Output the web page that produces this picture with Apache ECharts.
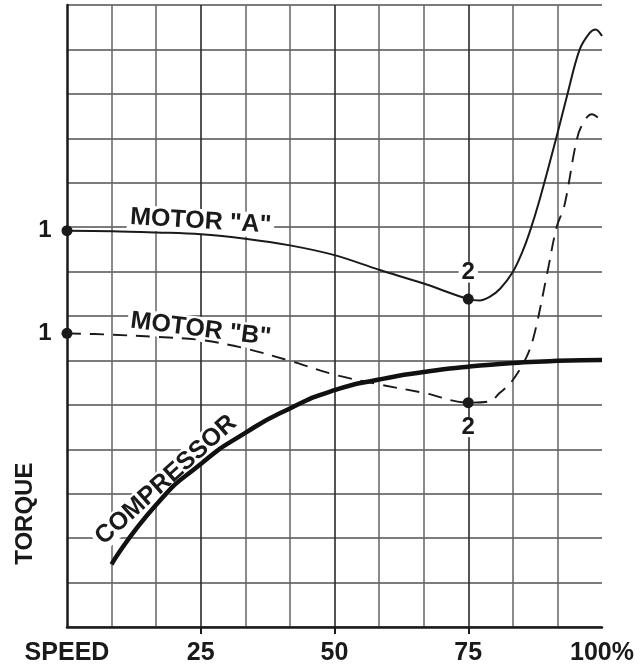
<!DOCTYPE html>
<html><head><meta charset="utf-8">
<script src="https://cdn.jsdelivr.net/npm/echarts@6/dist/echarts.min.js"></script>
<style>html,body{margin:0;padding:0;background:#fff}#c{width:642px;height:667px}</style>
</head><body><div id="c"></div>
<script>
// ---- data ----
const speedTicks = [0, 25, 50, 75, 100];
const speedTickLabels = ['SPEED', '25', '50', '75', '100%'];

const motorASpeed  = [0, 8.33, 16.67, 25, 33.33, 41.67, 50, 58.33, 66.67, 75, 77.1, 79.0, 81.0, 83.33, 85.0, 86.4, 88.3, 91.5, 93.6, 95.8, 97.7, 98.8, 100];
const motorATorque = [8.92, 8.91, 8.88, 8.84, 8.74, 8.59, 8.37, 8.04, 7.73, 7.38, 7.35, 7.43, 7.62, 7.99, 8.41, 8.86, 9.60, 11.03, 12.02, 12.99, 13.37, 13.45, 13.30];

const motorBSpeed  = [0, 8.33, 16.67, 25, 33.33, 41.67, 50, 58.33, 66.67, 75, 79.0, 80.8, 83.1, 85.9, 87.4, 89.8, 91.5, 93.0, 95.0, 96.1, 98.1, 100];
const motorBTorque = [6.61, 6.58, 6.53, 6.46, 6.27, 5.99, 5.68, 5.46, 5.27, 5.05, 5.08, 5.26, 5.52, 6.08, 6.61, 7.99, 8.99, 9.50, 10.81, 11.26, 11.54, 11.39];

const compSpeed  = [8.33, 16.67, 25, 33.33, 41.67, 50, 58.33, 66.67, 75, 83.33, 91.67, 100];
const compTorque = [1.41, 2.75, 3.67, 4.37, 4.92, 5.33, 5.57, 5.74, 5.86, 5.94, 5.99, 6.01];

const pointSpeed  = [0, 75, 0, 75];
const pointTorque = [8.92, 7.38, 6.61, 5.05];
const pointLabels = ['1', '2', '1', '2'];
const pointLabelPos = ['left', 'top', 'left', 'bottom'];

const curveLabelText  = ['MOTOR "A"', 'MOTOR "B"', 'COMPRESSOR'];
const curveLabelSpeed = [25, 25, 18.5];
const curveLabelTorque = [9.13, 6.70, 3.31];
const curveLabelAngle = [-3.5, -7, 42];

const axisTitle = 'TORQUE';
const axisTitleTorque = 2.55;

// ---- chart ----
const FONT = '"Liberation Sans", Arial, Helvetica, sans-serif';
const zip = (a, b) => a.map((v, i) => [v, b[i]]);
const chart = echarts.init(document.getElementById('c'), null, {renderer: 'canvas'});

chart.setOption({
  animation: false,
  backgroundColor: '#fff',
  grid: {left: 67, right: 40, top: 5, bottom: 40, containLabel: false},
  xAxis: {
    type: 'value', min: 0, max: 100, interval: 25,
    axisLine: {show: true, onZero: false, lineStyle: {color: '#1a1a1a', width: 2.5}},
    axisTick: {show: true, customValues: [25, 50, 75], length: 7, lineStyle: {color: '#1a1a1a', width: 2}},
    axisLabel: {
      show: true, margin: 14, color: '#1a1a1a',
      fontFamily: FONT, fontWeight: 'bold', fontSize: 25,
      formatter: v => { const i = speedTicks.indexOf(v); return i >= 0 ? speedTickLabels[i] : ''; }
    },
    splitLine: {show: true, lineStyle: {color: '#2a2a2a', width: 1.6}},
    minorTick: {show: false, splitNumber: 3},
    minorSplitLine: {show: true, lineStyle: {color: '#666', width: 1.5}}
  },
  yAxis: {
    type: 'value', min: 0, max: 14, interval: 1,
    axisLine: {show: true, onZero: false, lineStyle: {color: '#1a1a1a', width: 2.5}},
    axisTick: {show: false},
    axisLabel: {show: false},
    splitLine: {show: true, lineStyle: {color: '#505050', width: 1.5}}
  },
  series: [
    {
      type: 'line', name: 'Motor A', data: zip(motorASpeed, motorATorque),
      smooth: 0.35, showSymbol: false, z: 3,
      lineStyle: {color: '#1a1a1a', width: 2}
    },
    {
      type: 'line', name: 'Motor B', data: zip(motorBSpeed, motorBTorque),
      smooth: 0.35, showSymbol: false, z: 3,
      lineStyle: {color: '#1a1a1a', width: 1.9, type: [14, 9]}
    },
    {
      type: 'line', name: 'Compressor', data: zip(compSpeed, compTorque),
      smooth: 0.6, showSymbol: false, z: 3,
      lineStyle: {color: '#111', width: 4.5, cap: 'butt'}
    },
    {
      type: 'scatter', z: 4, symbol: 'circle', symbolSize: 11,
      itemStyle: {color: '#1a1a1a', opacity: 1},
      data: pointSpeed.map((s, i) => ({
        value: [s, pointTorque[i]],
        label: {
          show: true, formatter: pointLabels[i], position: pointLabelPos[i],
          distance: pointLabelPos[i] === 'left' ? 10 : (pointLabelPos[i] === 'top' ? 11 : 9),
          color: '#1a1a1a', opacity: 1, fontFamily: FONT, fontWeight: 'bold', fontSize: 24,
          lineHeight: 20,
          backgroundColor: pointLabelPos[i] === 'left' ? 'transparent' : '#fff',
          padding: pointLabelPos[i] === 'left' ? 0 : [0, 3]
        }
      }))
    }
  ]
});

function placeLabels() {
  const g = [];
  curveLabelText.forEach((t, i) => {
    const p = chart.convertToPixel({gridIndex: 0}, [curveLabelSpeed[i], curveLabelTorque[i]]);
    g.push({
      type: 'text', x: p[0], y: p[1], rotation: curveLabelAngle[i] * Math.PI / 180, z: 1,
      style: {
        text: t, fill: '#1a1a1a', align: 'center', verticalAlign: 'middle',
        font: 'bold 25px ' + FONT, backgroundColor: '#fff', padding: [0, 3]
      }
    });
  });
  const q = chart.convertToPixel({gridIndex: 0}, [0, axisTitleTorque]);
  g.push({
    type: 'text', x: q[0] - 42, y: q[1], rotation: Math.PI / 2, z: 1,
    style: {text: axisTitle, fill: '#1a1a1a', align: 'center', verticalAlign: 'middle', font: 'bold 24px ' + FONT}
  });
  chart.setOption({graphic: g});
}
placeLabels();
</script>
</body></html>
